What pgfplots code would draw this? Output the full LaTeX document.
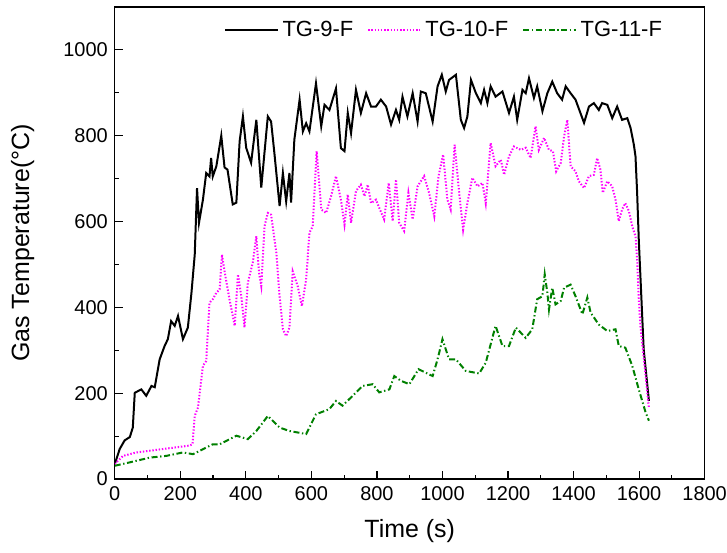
\documentclass[border=0pt]{standalone}
\usepackage{pgfplots}
\pgfplotsset{compat=1.18}
\usetikzlibrary{calc}
\usepackage{fontspec}
\setmainfont{Liberation Sans}
\definecolor{mag}{RGB}{255,0,255}
\definecolor{grn}{RGB}{0,128,0}
\begin{document}
\begin{tikzpicture}
\begin{axis}[
  name=ax,
  scale only axis,
  width=295.5pt, height=236.5pt,
  xmin=0, xmax=1800, ymin=0, ymax=1100,
  xtick={0,200,...,1800}, ytick={0,200,...,1000},
  minor xtick={100,300,...,1700}, minor ytick={100,300,...,1100},
  tick pos=left, tick align=inside,
  major tick length=4pt, minor tick length=2pt,
  every tick/.style={black, line width=0.6pt},
  axis line style={line width=0.7pt},
  /pgf/number format/assume math mode=true,
  /pgf/number format/set thousands separator={},
  tick label style={font=\fontsize{10}{12}\selectfont},
  xticklabel style={inner xsep=0pt},
  xlabel={Time (s)}, ylabel={Gas Temperature(°C)},
  label style={font=\fontsize{12.5}{14}\selectfont},
  xlabel style={at={(axis description cs:0.5,-0.11)}, anchor=center},
  ylabel style={at={(axis description cs:-0.156,0.5)}, anchor=center},
  legend style={draw=none, fill=none, at={(axis description cs:0.56,0.951)}, anchor=center,
    font=\fontsize{11}{13}\selectfont, legend columns=3,
    /tikz/every even column/.append style={column sep=5pt}},
  legend image code/.code={\draw[#1] (0cm,0cm) -- (0.92cm,0cm);},
  legend cell align=left,
]
\addplot[black, line width=1pt] coordinates {
(0,35)(15,70)(30,90)(46,98)(55,120)(61,201)(81,209)(96,194)(112,217)(122,214)
(137,279)(152,310)(162,326)(172,368)(183,357)(193,380)(208,326)(223,353)(234,434)(244,523)
(251,678)(257,597)(269,651)(279,713)(289,705)(294,748)(299,705)(310,729)(325,800)(335,726)
(344,721)(360,640)(371,644)(381,787)(391,845)(401,772)(416,737)(432,837)(447,679)(467,845)
(477,833)(487,760)(503,636)(513,713)(523,647)(533,713)(538,644)(548,791)(564,884)(574,810)
(584,829)(594,810)(614,922)(630,822)(640,872)(655,860)(675,910)(690,771)(701,764)(711,853)
(721,806)(736,907)(751,853)(767,899)(782,868)(797,868)(812,884)(828,868)(843,826)(858,860)
(868,837)(878,891)(893,845)(909,899)(924,833)(934,903)(949,899)(970,833)(985,915)(998,942)
(1010,903)(1020,930)(1041,942)(1056,837)(1066,818)(1076,845)(1087,930)(1102,899)(1117,876)(1127,907)
(1137,876)(1147,915)(1162,891)(1183,903)(1203,853)(1218,891)(1228,837)(1244,907)(1254,899)(1264,934)
(1279,888)(1289,915)(1305,857)(1320,899)(1335,926)(1350,899)(1365,884)(1376,915)(1391,899)(1406,884)
(1432,830)(1447,868)(1462,876)(1477,860)(1487,876)(1503,872)(1518,841)(1533,868)(1548,837)(1564,841)
(1574,818)(1584,779)(1589,752)(1594,667)(1599,558)(1614,302)(1630,182)
};
\addlegendentry{TG-9-F}
\addplot[mag, line width=1pt, dash pattern=on 0.7pt off 0.9pt] coordinates {
(0,35)(25,54)(66,62)(107,66)(147,70)(188,74)(228,78)(237,81)(244,147)(254,167)
(269,264)(279,275)(289,411)(299,419)(310,434)(320,442)(327,523)(335,484)(350,419)(366,357)
(376,477)(386,426)(396,353)(406,457)(421,504)(432,566)(440,481)(447,450)(457,589)(467,620)
(477,616)(493,527)(503,426)(513,349)(523,333)(533,353)(543,484)(558,450)(571,403)(584,465)
(594,574)(604,589)(616,764)(630,628)(645,620)(660,659)(675,706)(690,651)(701,593)(711,663)
(721,597)(736,671)(751,686)(762,659)(772,686)(782,643)(797,651)(807,632)(822,605)(836,690)
(848,601)(858,698)(868,597)(883,578)(896,667)(909,605)(924,682)(944,706)(959,667)(975,612)
(988,706)(1002,756)(1015,651)(1025,628)(1037,779)(1051,667)(1063,581)(1076,643)(1091,702)(1107,682)
(1122,690)(1132,643)(1147,783)(1162,729)(1178,744)(1188,709)(1203,752)(1218,775)(1239,767)(1254,772)
(1269,748)(1284,822)(1294,767)(1310,795)(1325,767)(1337,764)(1347,717)(1361,737)(1371,798)(1381,837)
(1391,729)(1406,717)(1416,694)(1432,678)(1447,706)(1462,709)(1472,748)(1482,721)(1489,667)(1503,694)
(1518,682)(1528,651)(1538,601)(1548,628)(1558,643)(1569,624)(1579,589)(1589,566)(1594,512)(1599,420)
(1604,357)(1620,240)(1630,165)
};
\addlegendentry{TG-10-F}
\addplot[grn, line width=1pt, dash pattern=on 3pt off 1.3pt on 0.7pt off 1.3pt] coordinates {
(0,31)(46,39)(107,50)(157,54)(208,62)(239,58)(299,81)(320,81)(371,101)(406,93)
(432,112)(467,147)(503,120)(533,112)(584,105)(614,151)(655,163)(675,182)(695,171)(726,194)
(756,217)(787,221)(807,202)(838,209)(853,240)(873,229)(899,221)(927,256)(970,240)(985,279)
(1000,326)(1020,279)(1041,279)(1071,252)(1112,246)(1132,271)(1162,357)(1183,310)(1203,310)(1224,353)
(1254,329)(1274,349)(1289,419)(1305,426)(1312,477)(1320,434)(1325,395)(1335,446)(1345,407)(1361,415)
(1371,446)(1391,453)(1406,426)(1427,384)(1442,423)(1452,388)(1477,360)(1503,345)(1528,349)(1538,310)
(1558,306)(1579,264)(1599,209)(1620,155)(1630,136)
};
\addlegendentry{TG-11-F}
\end{axis}
\path ($(ax.south west)+(-57.5pt,-37pt)$) rectangle ($(ax.north east)+(11.2pt,3.5pt)$);
\end{tikzpicture}
\end{document}
